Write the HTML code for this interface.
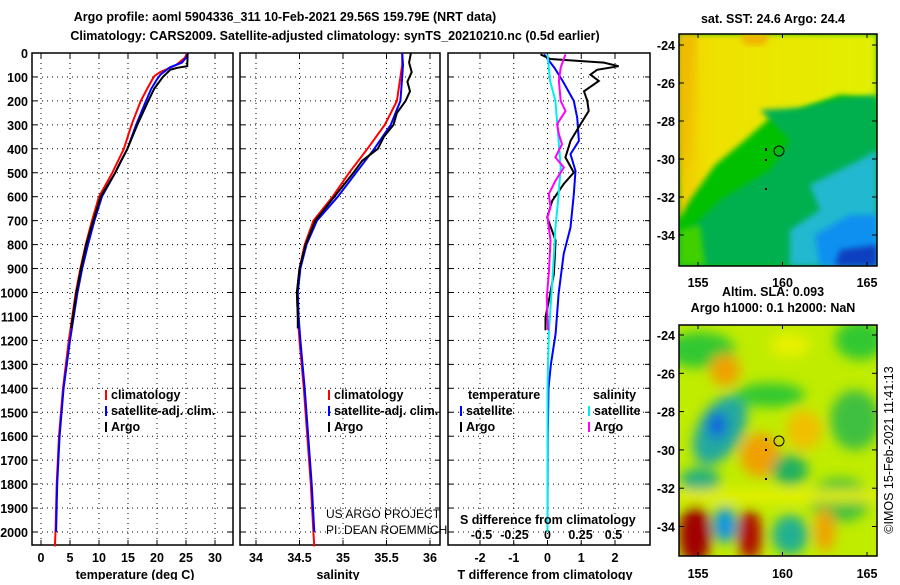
<!DOCTYPE html>
<html><head><meta charset="utf-8"><style>
body{margin:0;background:#fff;}
svg text{font-family:"Liberation Sans",sans-serif;}
.b{font-weight:bold;font-size:12.5px;}
</style></head><body>
<svg id="c" width="900" height="580" xmlns="http://www.w3.org/2000/svg">
<defs>
<filter id="bl" x="-20%" y="-20%" width="140%" height="140%"><feGaussianBlur stdDeviation="6"/></filter>
<filter id="bl2" x="-20%" y="-20%" width="140%" height="140%"><feGaussianBlur stdDeviation="3"/></filter>
<clipPath id="m1"><rect x="679" y="34" width="198" height="232"/></clipPath>
<clipPath id="m2"><rect x="679" y="325" width="198" height="231"/></clipPath>
<linearGradient id="yg" x1="0" y1="0" x2="1" y2="0"><stop offset="0" stop-color="#f0c800"/><stop offset="0.15" stop-color="#f0e000"/><stop offset="1" stop-color="#e0f000"/></linearGradient>
</defs>
<text x="285" y="21" text-anchor="middle" class="b" font-size="14">Argo profile: aoml 5904336_311 10-Feb-2021 29.56S 159.79E (NRT data)</text>
<text x="335" y="40" text-anchor="middle" class="b" font-size="14">Climatology: CARS2009. Satellite-adjusted climatology: synTS_20210210.nc (0.5d earlier)</text>
<g id="panels"></g>
<g clip-path="url(#m1)">
<rect x="679" y="34" width="198" height="232" fill="#00c000"/>
<polygon points="679,34 877,34 877,100 840,95 800,110 770,118 745,140 715,165 690,200 679,220" fill="url(#yg)" filter="url(#bl2)"/>
<polygon points="679,34 695,34 692,60 688,150 679,180" fill="#f0b400" filter="url(#bl)"/>
<polygon points="740,34 770,34 765,45 745,45" fill="#f0b400" filter="url(#bl2)"/>
<polygon points="760,110 800,108 840,98 877,95 877,266 679,266 679,240 720,200 770,170 790,140" fill="#00b050" filter="url(#bl2)"/>
<polygon points="810,185 860,160 877,150 877,266 790,266 790,230 820,210" fill="#20b8d0" filter="url(#bl2)"/>
<polygon points="815,235 850,215 877,215 877,266 820,266" fill="#1090f0" filter="url(#bl2)"/>
<polygon points="840,250 877,245 877,266 835,266" fill="#1040c0" filter="url(#bl2)"/>
<polygon points="679,230 700,225 705,266 679,266" fill="#40d000" filter="url(#bl2)"/>
</g>
<rect x="679" y="34" width="198" height="232" fill="none" stroke="#000" stroke-width="1.5"/>
<circle cx="779" cy="151" r="5" fill="none" stroke="#000"/>
<rect x="765" y="148" width="2" height="3" fill="#000"/><rect x="765" y="159" width="2" height="2" fill="#000"/><rect x="765" y="188" width="2" height="2" fill="#000"/>
<g clip-path="url(#m2)">
<rect x="679" y="325" width="198" height="231" fill="#c0ec00"/>
<g filter="url(#bl)">
<ellipse cx="700" cy="350" rx="35" ry="18" fill="#30c830"/>
<ellipse cx="860" cy="340" rx="25" ry="20" fill="#30c830"/>
<ellipse cx="790" cy="345" rx="20" ry="12" fill="#e8f000"/>
<ellipse cx="725" cy="370" rx="15" ry="16" fill="#f0a000"/>
<ellipse cx="720" cy="430" rx="22" ry="38" fill="#20a8a0" transform="rotate(30 720 430)"/>
<ellipse cx="717" cy="425" rx="9" ry="13" fill="#1060e0"/>
<ellipse cx="770" cy="395" rx="35" ry="12" fill="#30c830"/>
<ellipse cx="760" cy="455" rx="20" ry="22" fill="#f0a000"/>
<ellipse cx="804" cy="430" rx="18" ry="20" fill="#f0c000"/>
<ellipse cx="790" cy="470" rx="18" ry="15" fill="#20b060"/>
<ellipse cx="855" cy="420" rx="25" ry="30" fill="#40c040"/>
<ellipse cx="840" cy="500" rx="30" ry="22" fill="#40c040"/>
<ellipse cx="700" cy="480" rx="20" ry="12" fill="#20b080"/>
<rect x="679" y="490" width="198" height="12" fill="#e8f000"/>
<ellipse cx="695" cy="535" rx="16" ry="30" fill="#a00000"/>
<ellipse cx="725" cy="525" rx="12" ry="18" fill="#1098e0"/>
<ellipse cx="750" cy="535" rx="12" ry="26" fill="#b01000"/>
<ellipse cx="790" cy="535" rx="18" ry="20" fill="#20b090"/>
<ellipse cx="825" cy="530" rx="10" ry="22" fill="#f0a000"/>
</g></g>
<rect x="679" y="325" width="198" height="231" fill="none" stroke="#000" stroke-width="1.5"/>
<circle cx="779" cy="441" r="5" fill="none" stroke="#000"/>
<rect x="765" y="438" width="2" height="3" fill="#000"/><rect x="765" y="449" width="2" height="2" fill="#000"/><rect x="765" y="478" width="2" height="2" fill="#000"/>
<text x="773" y="23" text-anchor="middle" class="b">sat. SST: 24.6 Argo: 24.4</text>
<text x="773" y="296" text-anchor="middle" class="b">Altim. SLA: 0.093</text>
<text x="773" y="312" text-anchor="middle" class="b">Argo h1000: 0.1 h2000: NaN</text>
<text transform="translate(893,450) rotate(-90)" text-anchor="middle" font-size="12.5">©IMOS 15-Feb-2021 11:41:13</text>
<text x="326" y="518" font-size="12">US ARGO PROJECT</text>
<text x="326" y="534" font-size="12">PI: DEAN ROEMMICH</text>
<text x="460" y="524" class="b">S difference from climatology</text>
</svg>
<script>
const depthTicks=[0,100,200,300,400,500,600,700,800,900,1000,1100,1200,1300,1400,1500,1600,1700,1800,1900,2000];
const tTicks=[0,5,10,15,20,25,30];
const sTicks=[34,34.5,35,35.5,36];
const sTickLabels=["34","34.5","35","35.5","36"];
const dTicks=[-2,-1,0,1,2];
const sdTicks=[-0.5,-0.25,0,0.25,0.5];
const sdTickLabels=["-0.5","-0.25","0","0.25","0.5"];
const latTicks=[-24,-26,-28,-30,-32,-34];
const lonTicks=[155,160,165];
// temperature
const tClimD=[0,20,50,80,95,110,150,200,300,400,500,600,700,800,900,1000,1200,1400,1600,1800,2000,2060];
const tClimV=[25.2,24.8,23.3,20.5,19.6,19.2,18.3,17.2,15.6,14.3,12.3,10.0,8.8,7.7,6.8,6.0,4.8,3.8,3.1,2.7,2.5,2.4];
const tSatD=[0,20,40,60,90,110,150,200,300,400,500,600,700,800,900,1000,1200,1400,1600,1800,2000];
const tSatV=[25.3,25.0,24.3,22.2,20.6,20.0,19.0,18.1,16.4,14.9,12.8,10.5,9.2,8.1,7.1,6.3,5.0,3.9,3.2,2.8,2.6];
const tArgoD=[0,55,62,70,100,130,150,200,300,400,450,500,600,700,800,900,1000,1150];
const tArgoV=[25.3,25.2,23.5,22.3,21.0,20.1,19.5,18.5,16.6,14.9,13.8,12.8,10.3,9.0,7.8,6.9,6.1,5.2];
// salinity
const sClimD=[0,50,100,200,300,400,500,600,700,800,900,1000,1100,1200,1400,1600,1800,2000,2060];
const sClimV=[35.68,35.68,35.66,35.62,35.48,35.28,35.07,34.88,34.66,34.56,34.5,34.47,34.48,34.5,34.55,34.59,34.63,34.66,34.67];
const sSatD=[0,50,100,200,300,400,500,600,700,800,900,1000,1100,1200,1400,1600,1800,2000];
const sSatV=[35.68,35.69,35.68,35.66,35.55,35.36,35.15,34.94,34.7,34.58,34.51,34.48,34.49,34.51,34.56,34.6,34.64,34.67];
const sArgoD=[0,40,80,120,160,200,250,300,350,400,450,500,600,700,800,900,1000,1100,1150];
const sArgoV=[35.78,35.76,35.79,35.74,35.77,35.72,35.62,35.58,35.47,35.4,35.22,35.12,34.9,34.68,34.57,34.5,34.47,34.48,34.48];
// differences
const dTArgoD=[6,25,40,55,70,90,117,160,200,242,297,367,436,499,547,617,686,783,922,1033,1103,1158];
const dTArgoV=[-0.21,0.09,1.67,2.11,1.47,1.27,1.52,1.08,1.18,1.22,0.98,0.68,0.53,0.78,0.48,0.14,-0.01,0.24,0.19,0.04,-0.06,-0.06];
const dTSatD=[6,61,117,200,270,367,422,492,590,728,839,1006,1172,1300,1400,1600,2000];
const dTSatV=[-0.1,0.2,0.45,0.78,0.88,0.93,0.68,0.83,0.78,0.68,0.48,0.33,0.24,0.1,0.03,0.01,0.0];
const dSSatD=[6,117,200,339,478,617,728,922,1172,1400,2000];
const dSSatV=[0,0.02,0.06,0.08,0.1,0.08,0.06,0.04,0.01,0.0,0.0];
const dSArgoD=[6,61,117,200,242,297,339,381,436,478,533,589,644,686,783,922,1019,1103,1158];
const dSArgoV=[0.136,0.1,0.086,0.1,0.136,0.073,0.086,0.11,0.06,0.124,0.06,0.01,0.023,0.0,0.023,0.01,-0.005,0.0,0.005];

const NS='http://www.w3.org/2000/svg';
const root=document.getElementById('panels');
const Y0=53,KY=0.2395,YB=545;
function yD(d){return Y0+d*KY;}
function mk(tag,attrs,parent){const e=document.createElementNS(NS,tag);for(const k in attrs)e.setAttribute(k,attrs[k]);(parent||root).appendChild(e);return e;}
const pT={x0:32,x1:233,f:v=>41+v*5.8};
const pS={x0:240,x1:440,f:v=>256+(v-34)*87};
const pD={x0:448,x1:650,f:v=>547.5+v*33.75};
const pSD={f:v=>547.5+v*132};
function frame(p,name,ticks,labels,title,tx){
  const g=mk('g',{});
  
  
  depthTicks.forEach(d=>{if(d>0){mk('line',{x1:p.x0,x2:p.x1,y1:yD(d),y2:yD(d),stroke:'#000','stroke-dasharray':'1,4','stroke-width':1},g);
    mk('line',{x1:p.x0,x2:p.x0+5,y1:yD(d),y2:yD(d),stroke:'#000'},g);mk('line',{x1:p.x1-5,x2:p.x1,y1:yD(d),y2:yD(d),stroke:'#000'},g);}});
  ticks.forEach((t,i)=>{const x=p.f(t);mk('line',{x1:x,x2:x,y1:Y0,y2:YB,stroke:'#000','stroke-dasharray':'1,4'},g);
    mk('line',{x1:x,x2:x,y1:YB-5,y2:YB,stroke:'#000'},g);mk('line',{x1:x,x2:x,y1:Y0,y2:Y0+5,stroke:'#000'},g);
    const l=mk('text',{x:x,y:562,'text-anchor':'middle',class:'b'},g);l.textContent=labels[i];
    
    });
  mk('rect',{x:p.x0,y:Y0,width:p.x1-p.x0,height:YB-Y0,fill:'none',stroke:'#000','stroke-width':1.5},g);
  const t=mk('text',{x:tx,y:579,'text-anchor':'middle',class:'b'},g);t.textContent=title;
  
  
}
frame(pT,'temperature-panel',tTicks,tTicks.map(String),'temperature (deg C)',135);
frame(pS,'salinity-panel',sTicks,sTickLabels,'salinity',338);
frame(pD,'difference-panel',dTicks,dTicks.map(String),'T difference from climatology',545);
sdTicks.forEach((t,i)=>{const l=mk('text',{x:pSD.f(t),y:539,'text-anchor':'middle',class:'b'});l.textContent=sdTickLabels[i];
  
  });
depthTicks.forEach(d=>{const l=mk('text',{x:28,y:yD(d)+5,'text-anchor':'end',class:'b'});l.textContent=d;
  
  });
function line(D,V,f,color,name){const pts=D.map((d,i)=>f(V[i]).toFixed(1)+','+yD(d).toFixed(1)).join(' ');
  const e=mk('polyline',{points:pts,fill:'none',stroke:color,'stroke-width':2});
  
  }
line(tClimD,tClimV,pT.f,'#f00','temp-climatology-line');
line(tSatD,tSatV,pT.f,'#00f','temp-satellite-line');
line(tArgoD,tArgoV,pT.f,'#000','temp-argo-line');
line(sClimD,sClimV,pS.f,'#f00','sal-climatology-line');
line(sSatD,sSatV,pS.f,'#00f','sal-satellite-line');
line(sArgoD,sArgoV,pS.f,'#000','sal-argo-line');
line(dTSatD,dTSatV,pD.f,'#00f','tdiff-satellite-line');
line(dTArgoD,dTArgoV,pD.f,'#000','tdiff-argo-line');
line(dSSatD,dSSatV,pSD.f,'#0ee','sdiff-satellite-line');
line(dSArgoD,dSArgoV,pSD.f,'#f0f','sdiff-argo-line');
function leg(x,y,color,txt){if(color)mk('rect',{x:x-6,y:y-9,width:2,height:10,fill:color});const t=mk('text',{x:x,y:y,class:'b'});t.textContent=txt;
  
  }
leg(111,399,'#f00','climatology');leg(111,415,'#00f','satellite-adj. clim.');leg(111,431,'#000','Argo');
leg(334,399,'#f00','climatology');leg(334,415,'#00f','satellite-adj. clim.');leg(334,431,'#000','Argo');
leg(468,399,null,'temperature');leg(466,415,'#00f','satellite');leg(466,431,'#000','Argo');
leg(593,399,null,'salinity');leg(594,415,'#0ee','satellite');leg(594,431,'#f0f','Argo');
const svg=document.getElementById('c');
function mapAxes(top,bot,latY0,latK,lonY){
  latTicks.forEach(l=>{const y=latY0+(l+24)*-latK;if(y<top||y>bot)return;
    mk('line',{x1:679,x2:684,y1:y,y2:y,stroke:'#000'},svg);mk('line',{x1:872,x2:877,y1:y,y2:y,stroke:'#000'},svg);
    const t=mk('text',{x:675,y:y+5,'text-anchor':'end',class:'b'},svg);t.textContent=l;
    
    });
  lonTicks.forEach(l=>{const x=698+(l-155)*16.9;
    mk('line',{x1:x,x2:x,y1:top,y2:top+4,stroke:'#000'},svg);mk('line',{x1:x,x2:x,y1:bot-4,y2:bot,stroke:'#000'},svg);
    const t=mk('text',{x:x,y:lonY,'text-anchor':'middle',class:'b'},svg);t.textContent=l;
    
    });
}
mapAxes(34,266,45,19,287);
mapAxes(325,556,335,19.15,578);
</script>
</body></html>
